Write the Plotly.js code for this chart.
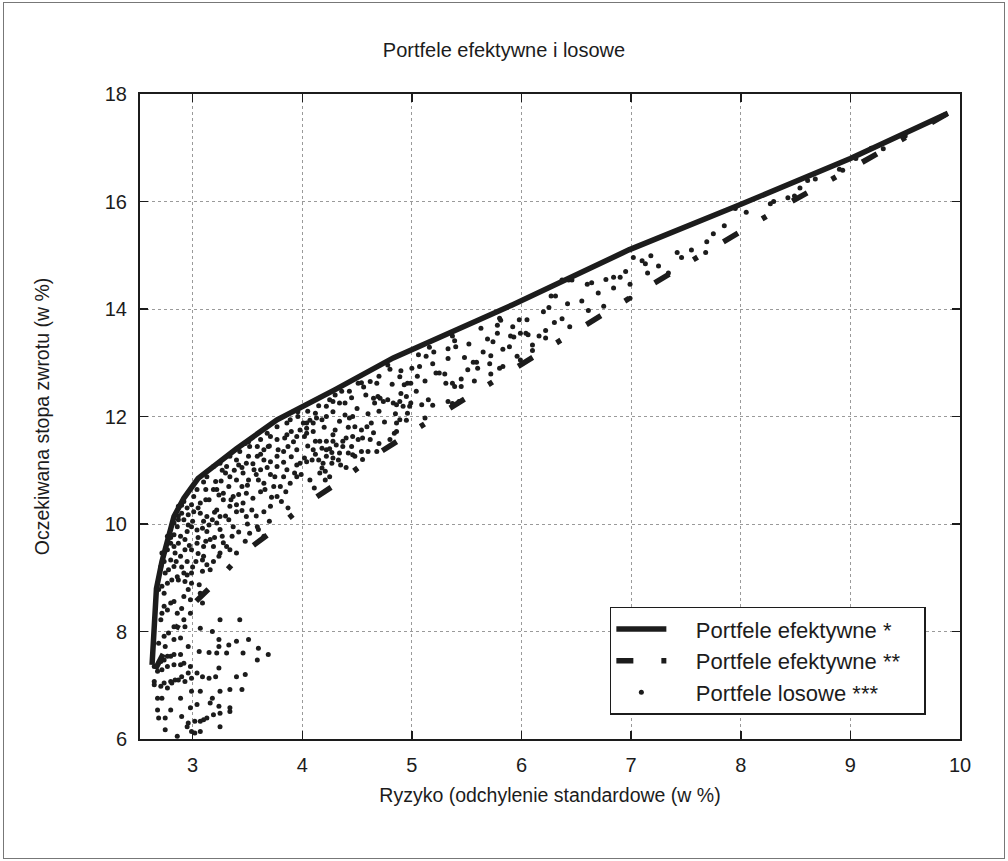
<!DOCTYPE html>
<html>
<head>
<meta charset="utf-8">
<script src="https://cdn.plot.ly/plotly-3.0.1.min.js"></script>
<style>
  html, body { margin: 0; padding: 0; background: #fff; }
  #wrap { position: relative; width: 1008px; height: 861px; }
  #chart { position: absolute; left: 0; top: 0; width: 1008px; height: 861px; }
  #frame { position: absolute; left: 3px; top: 2px; width: 1000px; height: 855px;
           border: 1px solid #777; pointer-events: none; }
</style>
</head>
<body>
<div id="wrap">
  <div id="chart"></div>
  <div id="frame"></div>
</div>
<script>
// Efficient frontier (*): risk (std dev, %) and expected return (%)
const frontierRisk = [2.63, 2.65, 2.67, 2.72, 2.77, 2.83, 2.92, 3.05, 3.40, 3.77, 4.30, 4.83, 5.92, 6.98, 7.98, 9.00, 9.89];
const frontierReturn = [7.38, 8.20, 8.80, 9.30, 9.65, 10.14, 10.48, 10.85, 11.40, 11.94, 12.50, 13.09, 14.08, 15.10, 15.93, 16.80, 17.64];

// Efficient frontier (**)
const frontier2Risk = [2.66, 2.93, 3.20, 3.46, 3.75, 4.04, 4.35, 4.65, 5.27, 5.90, 6.54, 7.16, 7.80, 8.43, 9.09, 9.73, 9.89];
const frontier2Return = [7.30, 8.36, 8.90, 9.46, 9.90, 10.38, 10.80, 11.26, 12.06, 12.85, 13.64, 14.42, 15.20, 15.96, 16.71, 17.46, 17.64];

// Random portfolios (***): risk
const randomRisk = [
  7.02, 7.18, 7.42, 7.46, 7.13, 7.15, 7.34, 6.99, 6.99, 6.77, 6.84, 6.90, 6.84, 6.64, 6.60, 6.61,
  6.37, 6.43, 6.46, 6.27, 6.31, 6.25, 6.42, 6.37, 6.44, 6.16, 6.22, 6.22, 6.10, 6.10, 6.04, 6.06,
  5.99, 5.92, 5.93, 5.98, 5.80, 5.81, 5.78, 5.78, 5.63, 5.69, 5.74, 5.83, 5.89, 5.72, 5.71, 5.80,
  5.83, 5.72, 5.96, 5.99, 5.59, 5.56, 5.51, 5.57, 5.37, 5.39, 5.33, 5.33, 5.16, 5.06, 5.07, 5.13,
  5.19, 5.22, 5.25, 5.30, 5.31, 5.12, 5.15, 5.19, 5.33, 5.37, 5.43, 5.39, 5.45, 5.37, 5.04, 4.99,
  4.96, 4.93, 4.89, 4.80, 4.78, 4.68, 4.54, 4.56, 4.51, 4.43, 4.36, 4.39, 4.34, 4.28, 4.25, 4.22,
  4.12, 4.13, 4.07, 4.04, 4.01, 3.98, 4.02, 4.04, 4.10, 4.12, 4.16, 4.22, 4.28, 4.31, 4.37, 4.40,
  4.46, 4.48, 4.46, 4.54, 4.59, 4.63, 4.66, 4.69, 4.65, 4.74, 4.78, 4.83, 4.86, 4.89, 4.92, 4.98,
  4.99, 4.95, 4.90, 4.96, 4.95, 4.86, 4.86, 4.84, 4.80, 4.89, 4.71, 5.12, 5.09, 4.62, 4.60, 4.54,
  4.51, 4.45, 4.42, 4.34, 4.27, 4.22, 4.18, 4.10, 4.09, 4.02, 4.04, 3.98, 4.15, 4.22, 4.28, 4.27,
  4.33, 4.37, 4.46, 4.48, 4.68, 4.19, 4.18, 4.16, 4.21, 3.99, 4.07, 4.21, 4.25, 4.11, 4.28, 4.34,
  4.39, 4.43, 4.22, 4.28, 4.18, 4.10, 4.04,
  3.43, 3.25, 3.07, 3.18, 3.24, 3.24, 3.33, 3.40, 3.51, 3.60, 3.69, 3.59, 3.46, 3.31, 3.22, 3.15,
  3.06, 2.96, 2.89, 2.83, 2.89, 2.80, 2.74, 2.71, 2.65, 2.68, 2.72, 2.77, 2.83, 2.89, 2.92, 2.98,
  2.96, 2.90, 2.84, 2.80, 2.74, 2.65, 2.65, 2.71, 2.77, 2.81, 2.87, 2.93, 2.99, 3.04, 3.09, 3.15,
  3.21, 3.24, 3.48, 3.40, 3.34, 3.45, 3.25, 3.18, 3.07, 2.99, 2.89, 2.68, 2.72, 2.68, 2.80, 2.90,
  2.98, 3.04, 3.16, 3.24, 3.34, 3.34, 3.25, 3.19, 3.13, 3.07, 3.02, 2.96, 2.95, 2.75, 2.69, 2.75,
  2.86, 2.99, 3.02, 3.07, 3.25, 3.10,
  2.71, 2.72, 2.77, 2.74, 2.80, 2.83, 2.74, 2.69, 2.72, 2.77, 2.81, 2.86, 2.75, 2.78, 2.83, 2.71,
  2.74, 2.80, 2.72, 2.77, 2.83, 2.87, 2.80, 2.77, 2.83, 2.89, 2.93, 2.95, 2.86, 2.83, 2.87, 2.92,
  2.96, 2.99, 3.04, 3.09, 3.13, 2.90, 2.96, 3.01, 3.07, 3.13, 3.18, 3.22, 3.07, 3.12, 2.99, 2.92,
  2.87, 3.01, 3.12, 3.19, 3.24, 3.28, 3.28, 3.34, 3.40, 3.49, 3.22, 3.33, 3.37, 3.36, 3.27, 3.16,
  3.10, 3.04, 2.99, 2.93, 2.89, 2.95, 3.03, 3.09, 3.13, 3.19, 3.16, 3.09, 2.99, 2.92, 2.87, 2.93,
  2.99, 3.06, 2.96, 2.92, 2.98, 2.90, 2.86, 2.92, 2.83, 2.78, 2.74, 2.69, 2.75, 2.83, 2.77, 3.07,
  3.09, 2.93, 2.98, 2.84, 3.10, 3.13, 3.21, 3.27, 3.31, 3.34, 3.40, 3.45, 3.46, 3.51, 3.56, 3.60,
  3.65, 3.66, 3.74, 3.77, 3.81, 3.87, 3.71, 3.65, 3.54, 3.46, 3.40, 3.37, 3.25, 3.49, 3.59, 3.52,
  3.48, 3.65, 3.34, 3.25, 3.24, 3.31, 3.40, 3.19, 3.25, 3.34, 3.40, 3.43, 3.48, 3.52, 3.59, 3.65,
  3.71, 3.77, 3.83, 3.87, 3.92, 3.95, 3.77, 3.71, 3.68, 3.77, 3.86, 3.89, 3.96, 3.95, 3.95, 3.86,
  3.83, 3.80, 3.89, 3.95, 3.62, 3.71, 3.77, 3.59, 3.65, 3.49, 3.42, 3.51, 3.62, 3.86, 3.96, 3.51,
  3.69, 3.22, 3.15, 3.04, 3.19,
  7.69, 7.68, 7.95, 8.27, 8.30, 8.43, 8.49, 8.54, 8.61, 8.93, 9.05, 9.19,
  3.45, 3.55, 3.62, 3.70, 3.78, 3.84, 3.90, 3.58, 3.68, 3.75, 3.83, 3.90, 3.50, 3.62, 3.72, 3.85,
  3.93, 3.55, 3.42, 3.33, 3.38, 3.30, 3.26,
  2.95, 3.00, 3.05, 3.10, 3.15, 3.20, 3.25, 3.05, 3.12, 3.20, 2.97, 3.05, 3.10, 2.90, 2.95, 3.00,
  2.85, 2.80, 2.87, 2.90, 3.30, 3.35, 3.28, 3.42, 3.50, 3.58, 3.45, 3.60, 3.70,
  4.05, 4.15, 4.30, 4.45, 4.50, 4.60, 4.20, 4.30, 4.42, 4.55, 4.65, 4.70, 4.25, 4.35, 4.12, 4.05,
  4.40, 4.55, 4.75, 4.85, 4.70, 4.58, 4.62, 4.70, 4.90, 4.82, 5.00, 5.05, 5.20, 5.40, 5.48, 5.52,
  5.45, 5.60, 5.65, 5.90, 6.05, 6.20, 6.30, 6.55, 6.70, 6.75, 6.95, 7.10, 7.25, 7.55, 7.75, 7.85,
  8.05, 8.68, 8.90, 9.30, 9.50
];

// Random portfolios (***): expected return
const randomReturn = [
  14.96, 14.99, 15.05, 14.96, 14.84, 14.67, 14.67, 14.46, 14.20, 14.55, 14.59, 14.59, 14.39, 14.49, 14.46, 13.97,
  14.54, 14.54, 14.54, 14.24, 14.24, 14.03, 14.10, 13.82, 13.67, 13.50, 13.60, 13.46, 13.33, 13.23, 13.55, 13.52,
  13.55, 13.67, 13.48, 13.80, 13.83, 13.79, 13.70, 13.55, 13.64, 13.44, 13.39, 13.25, 13.30, 13.13, 12.98, 12.90,
  12.93, 12.79, 13.12, 13.05, 13.01, 13.01, 12.87, 12.66, 13.50, 13.41, 13.26, 13.08, 13.29, 13.15, 12.93, 13.12,
  12.98, 12.81, 12.81, 12.79, 12.62, 12.66, 12.31, 12.21, 12.28, 12.24, 12.28, 12.56, 12.56, 12.62, 12.47, 12.62,
  12.62, 12.59, 12.74, 12.88, 12.96, 12.62, 12.63, 12.55, 12.62, 12.47, 12.47, 12.25, 12.25, 12.28, 12.31, 12.19,
  12.06, 11.97, 11.93, 11.88, 11.88, 11.75, 11.63, 11.69, 11.72, 11.54, 11.54, 11.54, 11.54, 11.47, 11.44, 11.60,
  11.63, 11.81, 12.00, 11.75, 11.81, 11.88, 12.25, 12.37, 12.34, 12.28, 12.31, 12.25, 12.22, 12.28, 12.19, 12.19,
  12.25, 12.37, 12.43, 12.06, 11.93, 11.88, 11.72, 11.69, 11.57, 11.94, 12.34, 11.97, 12.22, 11.57, 11.35, 11.35,
  11.57, 11.44, 11.32, 11.32, 11.33, 11.38, 11.41, 11.38, 11.19, 11.23, 11.16, 11.13, 11.19, 11.26, 11.23, 11.13,
  11.19, 11.54, 11.29, 11.26, 11.35, 11.13, 11.04, 10.95, 10.98, 10.92, 10.82, 10.82, 10.88, 10.67, 11.66, 11.91,
  12.03, 11.97, 12.00, 12.09, 11.94, 11.88, 11.78,
  8.22, 8.22, 8.06, 8.00, 7.85, 7.72, 7.75, 7.82, 7.85, 7.69, 7.57, 7.47, 7.60, 7.60, 7.60, 7.61,
  7.63, 7.72, 7.88, 7.57, 7.57, 7.54, 7.47, 7.44, 7.35, 7.26, 7.29, 7.35, 7.38, 7.38, 7.41, 7.35,
  7.23, 7.16, 7.10, 7.07, 7.04, 7.07, 7.01, 6.98, 6.95, 7.04, 7.10, 7.07, 7.13, 7.23, 7.16, 7.13,
  7.16, 7.32, 7.20, 7.16, 6.92, 6.92, 6.89, 6.76, 6.89, 6.89, 6.76, 6.76, 6.76, 6.54, 6.54, 6.42,
  6.58, 6.64, 6.67, 6.61, 6.58, 6.51, 6.48, 6.45, 6.39, 6.33, 6.33, 6.30, 6.23, 6.17, 6.39, 6.39,
  6.05, 6.14, 6.11, 6.14, 6.23, 6.36,
  8.22, 8.34, 8.40, 8.47, 8.53, 8.56, 8.71, 8.78, 8.84, 8.90, 8.96, 9.02, 9.09, 9.15, 9.21, 9.21,
  9.30, 9.33, 9.46, 9.52, 9.58, 9.64, 9.64, 9.77, 9.80, 9.77, 9.71, 9.86, 9.95, 10.02, 10.08, 10.08,
  9.98, 9.95, 9.89, 9.92, 9.86, 10.20, 10.17, 10.23, 10.20, 10.14, 10.08, 10.02, 10.39, 10.45, 10.36, 10.42,
  10.33, 10.51, 10.64, 10.64, 10.54, 10.57, 10.45, 10.33, 10.36, 10.57, 10.26, 10.08, 9.95, 9.77, 9.77, 9.71,
  9.58, 9.64, 9.52, 9.52, 9.40, 9.30, 9.30, 9.33, 9.24, 9.30, 9.15, 9.12, 9.09, 9.09, 8.96, 8.93,
  8.90, 8.87, 8.78, 8.65, 8.59, 8.43, 8.34, 8.22, 8.09, 7.97, 7.91, 7.78, 7.72, 7.85, 7.54, 8.71,
  8.53, 8.09, 8.34, 9.46, 10.78, 10.88, 10.79, 11.00, 11.07, 10.88, 10.82, 10.70, 10.95, 10.82, 11.01, 10.82,
  10.76, 10.64, 10.70, 10.51, 10.42, 10.30, 10.33, 10.23, 10.26, 10.39, 10.23, 10.51, 10.14, 10.14, 9.95, 9.83,
  9.68, 9.77, 9.52, 9.46, 9.40, 9.58, 9.46, 9.58, 11.13, 11.26, 11.19, 11.35, 11.50, 11.44, 11.26, 11.19,
  11.16, 11.26, 11.35, 11.44, 11.53, 11.63, 11.57, 11.63, 11.69, 11.81, 11.88, 11.94, 12.00, 11.38, 11.10, 11.01,
  10.88, 10.70, 10.76, 10.88, 11.01, 10.92, 11.07, 11.44, 11.38, 11.13, 11.10, 11.26, 11.57, 11.66, 12.09, 11.53,
  11.44, 10.64, 10.45, 10.64, 11.07,
  15.25, 15.05, 15.87, 15.96, 16.00, 16.07, 16.10, 16.25, 16.39, 16.58, 16.80, 16.99,
  11.05, 11.12, 11.30, 11.45, 11.38, 11.60, 11.72, 10.92, 11.05, 10.88, 11.15, 11.25, 10.72, 10.60, 10.50, 10.60,
  10.95, 10.48, 10.55, 10.70, 11.00, 10.95, 10.80,
  10.30, 10.05, 10.30, 10.05, 9.98, 10.22, 9.90, 9.75, 9.68, 9.75, 9.60, 9.45, 9.40, 9.20, 9.05, 9.20,
  9.30, 9.75, 10.15, 10.35, 10.15, 10.45, 9.65, 9.85, 10.00, 10.15, 10.25, 9.90, 10.05,
  12.10, 12.20, 12.40, 12.35, 12.15, 12.05, 11.80, 11.75, 11.80, 11.60, 11.70, 11.50, 11.40, 11.10, 11.30, 11.45,
  11.05, 11.20, 11.90, 12.05, 12.10, 12.40, 12.65, 12.75, 12.85, 12.60, 12.90, 12.75, 13.20, 13.30, 13.10, 13.35,
  12.70, 12.90, 13.20, 13.50, 13.80, 13.95, 13.75, 14.15, 14.30, 14.05, 14.70, 14.90, 14.80, 15.10, 15.40, 15.55,
  15.80, 16.42, 16.60, 16.98, 17.22
];

const xTicks = [3, 4, 5, 6, 7, 8, 9, 10];
const yTicks = [6, 8, 10, 12, 14, 16, 18];

const chartTitle = 'Portfele efektywne i losowe';
const xTitle = 'Ryzyko (odchylenie standardowe (w %)';
const yTitle = 'Oczekiwana stopa zwrotu (w %)';
const seriesNames = ['Portfele efektywne *', 'Portfele efektywne **', 'Portfele losowe ***'];

const ink = '#1c1c1c';
const fontFamily = '"Liberation Sans", Arial, sans-serif';
// extra room around the legend labels
const padLeft = '\u00a0\u00a0\u00a0\u00a0';
const padRight = '\u00a0\u00a0\u00a0';
const legendLabel = (s) => padLeft + s + padRight;

const traces = [
  {
    x: randomRisk, y: randomReturn, type: 'scatter', mode: 'markers',
    name: legendLabel(seriesNames[2]), legendgroup: 'c', legendrank: 3,
    marker: { size: 5, color: ink }
  },
  {
    x: frontierRisk, y: frontierReturn, type: 'scatter', mode: 'lines',
    name: legendLabel(seriesNames[0]), legendgroup: 'a', legendrank: 1,
    line: { color: ink, width: 5.5 }
  },
  {
    x: frontier2Risk, y: frontier2Return, type: 'scatter', mode: 'lines',
    name: legendLabel(seriesNames[1]), legendgroup: 'b', legendrank: 2,
    line: { color: ink, width: 5.5, dash: '17px,28px,5px,30px' }
  }
];

const axisCommon = {
  showline: true, mirror: 'ticks', linecolor: ink, linewidth: 2,
  ticks: 'inside', ticklen: 8, tickwidth: 1.5, tickcolor: ink,
  showgrid: true, gridcolor: '#9a9a9a', gridwidth: 1, griddash: 'dot',
  zeroline: false,
  tickfont: { family: fontFamily, size: 20, color: ink },
  tickmode: 'array'
};

const layout = {
  width: 1008, height: 861,
  margin: { l: 140, r: 48, t: 94, b: 122 },
  paper_bgcolor: '#fff', plot_bgcolor: '#fff',
  font: { family: fontFamily, color: ink },
  title: {
    text: chartTitle, x: 0.5, xref: 'container', xanchor: 'center',
    y: 1 - 50 / 861, yref: 'container', yanchor: 'middle',
    font: { family: fontFamily, size: 20, color: ink }
  },
  xaxis: Object.assign({}, axisCommon, {
    range: [2.52, 10], tickvals: xTicks, ticktext: xTicks.map(String),
    ticklabelstandoff: 7,
    title: { text: xTitle, standoff: 13, font: { family: fontFamily, size: 19.5, color: ink } }
  }),
  yaxis: Object.assign({}, axisCommon, {
    range: [6, 18], tickvals: yTicks, ticktext: yTicks.map(String),
    ticklabelstandoff: 7,
    title: { text: yTitle, standoff: 50, font: { family: fontFamily, size: 19.5, color: ink } }
  }),
  showlegend: true,
  legend: {
    x: 0.573, y: 0.205, xanchor: 'left', yanchor: 'top',
    bgcolor: '#fff', bordercolor: ink, borderwidth: 1.5,
    font: { family: fontFamily, size: 22, color: ink },
    itemwidth: 50, tracegroupgap: 3, traceorder: 'normal'
  },
  hovermode: false
};

Plotly.newPlot('chart', traces, layout, { displayModeBar: false, staticPlot: true });
</script>
</body>
</html>
